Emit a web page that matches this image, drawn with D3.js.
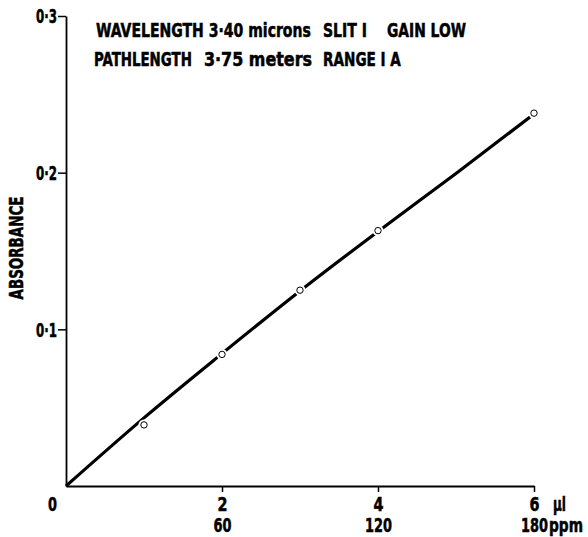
<!DOCTYPE html>
<html>
<head>
<meta charset="utf-8">
<script src="https://cdn.jsdelivr.net/npm/d3@7"></script>
<style>
  body { margin: 0; background: #fff; }
  svg text { font-family: "Liberation Sans Narrow", "DejaVu Sans Condensed", "Roboto", sans-serif; font-weight: bold; fill: #000; stroke: #000; stroke-width: 0.5px; }
</style>
</head>
<body>
<svg width="588" height="537"></svg>
<script>
// measured points (volume injected in µl, absorbance)
var volumes = [1, 2, 3, 4, 6];
var absorbance = [0.039, 0.084, 0.125, 0.163, 0.238];

// hand drawn calibration line
var fitVolume = [0, 1, 2, 3, 4, 5, 5.95];
var fitAbsorbance = [0, 0.0435, 0.0845, 0.1245, 0.1625, 0.1995, 0.2355];

// axis ticks
var xTicks = [2, 4, 6];
var ppmLabels = ["60", "120", "180"];
var yTicks = [0.1, 0.2, 0.3];

var svg = d3.select("svg");

var x = d3.scaleLinear().domain([0, 6]).range([66, 534]);
var y = d3.scaleLinear().domain([0, 0.3]).range([486, 16]);

// squeeze a text horizontally so it takes w pixels (the original type is very condensed)
function squeeze(node, w) {
  var len = node.getComputedTextLength();
  if (!len) return;
  var s = w / len;
  var ax = +node.getAttribute("x") || 0,
      ay = +node.getAttribute("y") || 0;
  node.setAttribute("transform",
    "translate(" + ax + "," + ay + ") scale(" + s + ",1) translate(" + (-ax) + "," + (-ay) + ")");
}

// y axis
var yAxis = svg.append("g")
    .attr("transform", "translate(" + x(0) + ",0)")
    .call(d3.axisLeft(y)
      .tickValues(yTicks)
      .tickSize(8)
      .tickSizeOuter(0)
      .tickPadding(1)
      .tickFormat(function(d) { return d3.format(".1f")(d).replace(".", "·"); }));
yAxis.select(".domain").attr("stroke-width", 1.8);
yAxis.selectAll(".tick line").attr("stroke-width", 1.5);
yAxis.selectAll(".tick text").attr("font-size", 19).attr("dy", "0.36em")
    .each(function() { squeeze(this, 21); });

// x axis
var xAxis = svg.append("g")
    .attr("transform", "translate(0," + y(0) + ")")
    .call(d3.axisBottom(x)
      .tickValues(xTicks)
      .tickSize(6)
      .tickSizeOuter(0)
      .tickFormat(""));
xAxis.select(".domain").attr("stroke-width", 1.8);
xAxis.selectAll(".tick line").attr("stroke-width", 1.5);
xAxis.selectAll(".tick").each(function(d, i) {
  var t = d3.select(this);
  t.append("text").attr("y", 25).attr("font-size", 19).attr("text-anchor", "middle").text(d)
      .each(function() { squeeze(this, 10); });
  t.append("text").attr("y", 46).attr("font-size", 19).attr("text-anchor", "middle").text(ppmLabels[i])
      .each(function() { squeeze(this, ppmLabels[i].length * 9); });
});

// units after the last tick
svg.append("text")
    .attr("x", x(6) + 19).attr("y", y(0) + 25)
    .attr("font-size", 19)
    .text("µl")
    .each(function() { squeeze(this, 13); });
svg.append("text")
    .attr("x", x(6) + 15).attr("y", y(0) + 46)
    .attr("font-size", 19)
    .text("ppm")
    .each(function() { squeeze(this, 34); });

// shared origin label
svg.append("text")
    .attr("x", x(0) - 9).attr("y", y(0) + 25)
    .attr("font-size", 19)
    .attr("text-anchor", "end")
    .text("0")
    .each(function() { squeeze(this, 9); });

// y axis title
svg.append("text")
    .attr("transform", "translate(23,248) rotate(-90)")
    .attr("font-size", 19)
    .attr("text-anchor", "middle")
    .attr("textLength", 103)
    .attr("lengthAdjust", "spacingAndGlyphs")
    .text("ABSORBANCE");

// instrument settings
var notes = [
  { text: "WAVELENGTH 3·40 microns", x: 96, y: 37, w: 215 },
  { text: "SLIT I", x: 323, y: 37, w: 44 },
  { text: "GAIN LOW", x: 387, y: 37, w: 79 },
  { text: "PATHLENGTH", x: 94, y: 66, w: 98 },
  { text: "3·75 meters", x: 204, y: 66, w: 108 },
  { text: "RANGE I A", x: 323, y: 66, w: 78 }
];
svg.append("g").selectAll("text")
    .data(notes)
    .enter().append("text")
      .attr("x", function(d) { return d.x; })
      .attr("y", function(d) { return d.y; })
      .attr("font-size", 19)
      .text(function(d) { return d.text; })
      .each(function(d) { squeeze(this, d.w); });

// calibration line
var line = d3.line()
    .x(function(d) { return x(d[0]); })
    .y(function(d) { return y(d[1]); })
    .curve(d3.curveMonotoneX);

svg.append("path")
    .datum(d3.zip(fitVolume, fitAbsorbance))
    .attr("fill", "none")
    .attr("stroke", "#000")
    .attr("stroke-width", 3.2)
    .attr("d", line);

var pts = d3.zip(volumes, absorbance);

// white halo so the line breaks around each point
svg.append("g").selectAll("circle")
    .data(pts)
    .enter().append("circle")
      .attr("cx", function(d) { return x(d[0]); })
      .attr("cy", function(d) { return y(d[1]); })
      .attr("r", 5.5)
      .attr("fill", "#fff");

svg.append("g").selectAll("circle")
    .data(pts)
    .enter().append("circle")
      .attr("cx", function(d) { return x(d[0]); })
      .attr("cy", function(d) { return y(d[1]); })
      .attr("r", 3.2)
      .attr("fill", "#fff")
      .attr("stroke", "#000")
      .attr("stroke-width", 1);
</script>
</body>
</html>
